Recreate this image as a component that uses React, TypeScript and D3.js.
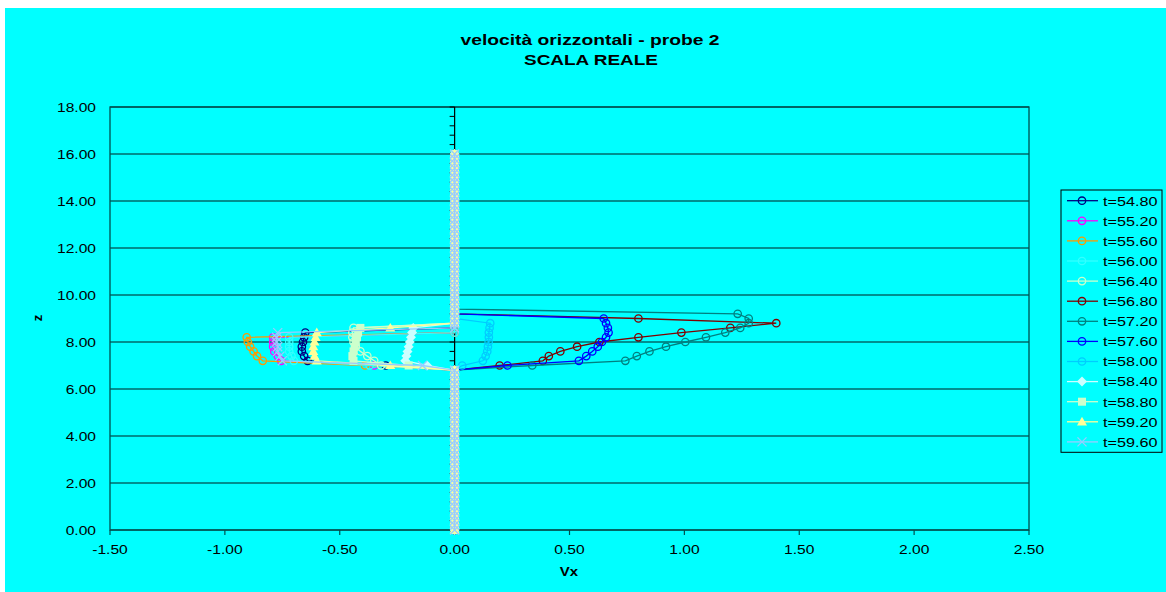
import React from "react";
import * as d3 from "d3";

// ---------- DATA ----------
const TITLE_1 = "velocità orizzontali - probe 2";
const TITLE_2 = "SCALA REALE";
const X_TITLE = "Vx";
const Y_TITLE = "z";

const X_TICKS = [-1.5, -1.0, -0.5, 0.0, 0.5, 1.0, 1.5, 2.0, 2.5];
const Y_TICKS = [0, 2, 4, 6, 8, 10, 12, 14, 16, 18];

// probe heights (m)
const Z_LEVELS = [
  0.0, 0.2, 0.4, 0.6, 0.8, 1.0, 1.2, 1.4, 1.6, 1.8, 2.0, 2.2, 2.4, 2.6, 2.8,
  3.0, 3.2, 3.4, 3.6, 3.8, 4.0, 4.2, 4.4, 4.6, 4.8, 5.0, 5.2, 5.4, 5.6, 5.8,
  6.0, 6.2, 6.4, 6.6, 6.8, 7.0, 7.2, 7.4, 7.6, 7.8, 8.0, 8.2, 8.4, 8.6, 8.8,
  9.0, 9.2, 9.4, 9.6, 9.8, 10.0, 10.2, 10.4, 10.6, 10.8, 11.0, 11.2, 11.4,
  11.6, 11.8, 12.0, 12.2, 12.4, 12.6, 12.8, 13.0, 13.2, 13.4, 13.6, 13.8,
  14.0, 14.2, 14.4, 14.6, 14.8, 15.0, 15.2, 15.4, 15.6, 15.8, 16.0,
];

const SERIES_NAMES = [
  "t=54.80", "t=55.20", "t=55.60", "t=56.00", "t=56.40", "t=56.80", "t=57.20",
  "t=57.60", "t=58.00", "t=58.40", "t=58.80", "t=59.20", "t=59.60",
];

// first wetted non-zero level for each series
const WAVE_START_Z = [7.0, 7.0, 7.0, 7.0, 7.0, 7.0, 7.0, 7.0, 7.0, 7.0, 7.0, 7.0, 7.0];

// Vx values from WAVE_START_Z upward (other probe levels read 0)
const VX_5480 = [-0.30, -0.64, -0.655, -0.665, -0.665, -0.66, -0.655, -0.65];
const VX_5520 = [-0.35, -0.755, -0.77, -0.785, -0.79, -0.79, -0.79];
const VX_5560 = [-0.39, -0.835, -0.86, -0.875, -0.89, -0.90, -0.905];
const VX_5600 = [-0.37, -0.70, -0.71, -0.72, -0.72, -0.72, -0.72];
const VX_5640 = [-0.32, -0.35, -0.38, -0.41, -0.43, -0.44, -0.445, -0.445, -0.44];
const VX_5680 = [0.196, 0.384, 0.41, 0.46, 0.533, 0.63, 0.80, 0.987, 1.20, 1.40, 0.80];
const VX_5720 = [0.338, 0.743, 0.793, 0.848, 0.92, 1.004, 1.094, 1.178, 1.243, 1.28, 1.28, 1.232];
const VX_5760 = [0.23, 0.541, 0.573, 0.599, 0.623, 0.641, 0.659, 0.67, 0.667, 0.659, 0.649];
const VX_5800 = [0.033, 0.123, 0.135, 0.142, 0.145, 0.148, 0.149, 0.149, 0.152, 0.155];
const VX_5840 = [-0.12, -0.215, -0.21, -0.205, -0.20, -0.195, -0.19, -0.185, -0.18];
const VX_5880 = [-0.20, -0.44, -0.445, -0.44, -0.435, -0.43, -0.425, -0.42, -0.41];
const VX_5920 = [-0.28, -0.60, -0.61, -0.615, -0.615, -0.61, -0.605, -0.60, -0.28];
const VX_5960 = [-0.14, -0.75, -0.76, -0.77, -0.77, -0.775, -0.775, -0.77];

const SERIES_VX = [
  VX_5480, VX_5520, VX_5560, VX_5600, VX_5640, VX_5680, VX_5720,
  VX_5760, VX_5800, VX_5840, VX_5880, VX_5920, VX_5960,
];

// ---------- STYLE ----------
const COLORS = [
  "#000080", "#FF00FF", "#FF9900", "#33FFFF", "#CCFFCC", "#800000", "#008080",
  "#0000FF", "#00CCFF", "#CCFFFF", "#CCFFCC", "#FFFF99", "#99CCFF",
];
const MARKERS = [
  "circle", "circle", "circle", "circle", "circle", "circle", "circle",
  "circle", "circle", "diamond", "square", "triangle", "x",
];

type Pt = { vx: number; z: number };

function buildSeries(i: number): Pt[] {
  const vx = SERIES_VX[i];
  const start = Z_LEVELS.findIndex((z) => Math.abs(z - WAVE_START_Z[i]) < 1e-6);
  return Z_LEVELS.map((z, k) => {
    const j = k - start;
    return { z, vx: j >= 0 && j < vx.length ? vx[j] : 0 };
  });
}

function Marker({ kind, cx, cy, color }: { kind: string; cx: number; cy: number; color: string }) {
  if (kind === "circle")
    return <circle cx={cx} cy={cy} r={3.7} fill="none" stroke={color} strokeWidth={1.3} />;
  if (kind === "square")
    return <rect x={cx - 4} y={cy - 4} width={8} height={8} fill={color} />;
  if (kind === "diamond")
    return (
      <path
        d={`M${cx},${cy - 5}L${cx + 5},${cy}L${cx},${cy + 5}L${cx - 5},${cy}Z`}
        fill={color}
      />
    );
  if (kind === "triangle")
    return (
      <path d={`M${cx},${cy - 5}L${cx + 5},${cy + 3.6}L${cx - 5},${cy + 3.6}Z`} fill={color} />
    );
  return (
    <path
      d={`M${cx - 4.5},${cy - 4.5}L${cx + 4.5},${cy + 4.5}M${cx - 4.5},${cy + 4.5}L${cx + 4.5},${cy - 4.5}`}
      stroke={color}
      strokeWidth={1.3}
      fill="none"
    />
  );
}

export default function App() {
  const W = 1166;
  const H = 592;
  const left = 110, right = 1029, top = 107, bottom = 530;
  const x = d3.scaleLinear().domain([-1.5, 2.5]).range([left, right]);
  const y = d3.scaleLinear().domain([0, 18]).range([bottom, top]);
  const line = d3
    .line<Pt>()
    .x((d) => x(d.vx))
    .y((d) => y(d.z));

  const series = SERIES_NAMES.map((_, i) => buildSeries(i));
  const minorY = d3.range(0, 18.0001, 0.4);
  const font = "'Liberation Sans', Arial, sans-serif";

  const legX = 1061, legY = 190, legW = 101, legRow = 20.1;

  return (
    <svg
      width={W}
      height={H}
      style={{ position: "absolute", left: 0, top: 0, display: "block" }}
      fontFamily={font}
    >
      <rect x={0} y={0} width={W} height={H} fill="#FFFFFF" />
      <rect x={5} y={8} width={W - 5} height={H - 8} fill="#00FFFF" />

      {/* title */}
      <text x={590} y={45} textAnchor="middle" fontSize={14} fontWeight="bold" fill="#000"
        textLength={259} lengthAdjust="spacingAndGlyphs">{TITLE_1}</text>
      <text x={591} y={65} textAnchor="middle" fontSize={14} fontWeight="bold" fill="#000"
        textLength={134} lengthAdjust="spacingAndGlyphs">{TITLE_2}</text>

      {/* gridlines */}
      {Y_TICKS.map((t) => (
        <line key={"g" + t} x1={left} x2={right} y1={y(t)} y2={y(t)} stroke="#006A6A" strokeWidth={1.3} />
      ))}
      {/* plot border */}
      <rect x={left} y={top} width={right - left} height={bottom - top} fill="none" stroke="#004F4F" strokeWidth={1.3} />

      {/* y axis at x = 0 */}
      <line x1={x(0)} x2={x(0)} y1={y(0)} y2={y(18)} stroke="#000" strokeWidth={1.2} />
      {minorY.map((t) => (
        <line key={"m" + t} x1={x(0) - 5} x2={x(0)} y1={y(t)} y2={y(t)} stroke="#000" strokeWidth={1} />
      ))}
      {/* x axis ticks */}
      {X_TICKS.map((t) => (
        <line key={"xt" + t} x1={x(t)} x2={x(t)} y1={bottom} y2={bottom + 5} stroke="#004F4F" strokeWidth={1.2} />
      ))}

      {/* tick labels */}
      {Y_TICKS.map((t) => (
        <text key={"yl" + t} transform={`translate(96,${y(t) + 4.6}) scale(1.2,1)`} textAnchor="end" fontSize={13} fill="#000">
          {t.toFixed(2)}
        </text>
      ))}
      {X_TICKS.map((t) => (
        <text key={"xl" + t} transform={`translate(${x(t)},${553.5}) scale(1.2,1)`} textAnchor="middle" fontSize={13} fill="#000">
          {t.toFixed(2)}
        </text>
      ))}
      <text transform={`translate(569,576) scale(1.15,1)`} textAnchor="middle" fontSize={13} fontWeight="bold" fill="#000">
        {X_TITLE}
      </text>
      <text transform={`translate(42,318) rotate(-90)`} textAnchor="middle" fontSize={13} fontWeight="bold" fill="#000">
        {Y_TITLE}
      </text>

      {/* series */}
      {series.map((pts, i) => (
        <g key={"s" + i}>
          <path d={line(pts) || ""} fill="none" stroke={COLORS[i]} strokeWidth={1.3} />
          {pts.map((p, k) => (
            <Marker key={k} kind={MARKERS[i]} cx={x(p.vx)} cy={y(p.z)} color={COLORS[i]} />
          ))}
        </g>
      ))}

      {/* legend */}
      <rect x={legX} y={legY} width={legW} height={legRow * 13 + 1} fill="#00FFFF" stroke="#000" strokeWidth={1} />
      {SERIES_NAMES.map((name, i) => {
        const cy = legY + 10.7 + i * legRow;
        return (
          <g key={"l" + i}>
            <line x1={1067} x2={1098} y1={cy} y2={cy} stroke={COLORS[i]} strokeWidth={1.3} />
            <Marker kind={MARKERS[i]} cx={1082} cy={cy} color={COLORS[i]} />
            <text transform={`translate(1103,${cy + 4.8}) scale(1.2,1)`} fontSize={13.5} fill="#000">
              {name}
            </text>
          </g>
        );
      })}
    </svg>
  );
}
